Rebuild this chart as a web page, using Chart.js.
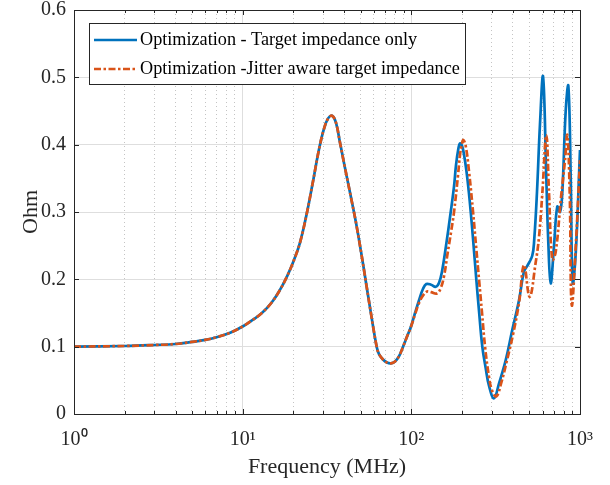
<!DOCTYPE html>
<html><head><meta charset="utf-8">
<script src="https://cdn.jsdelivr.net/npm/chart.js@4"></script>
<style>html,body{margin:0;padding:0;background:#fff}</style>
</head><body>
<canvas id="c" width="610" height="485" style="display:block;width:610px;height:485px"></canvas>
<script>
const seriesLabels = ['Optimization - Target impedance only', 'Optimization -Jitter aware target impedance'];
const freqBlue = [1,2,3,4,5,6,7,8.5,10,11.35,13,14.9,16.7,18.3,20.1,21.9,24,26.1,28.3,30.3,32.1,33.9,35.7,37.7,39.8,43.2,46.9,50.4,54.1,58,62.3,64.3,67.9,71.7,75.7,
  80.1,84.6,89.3,94.3,99.6,105.2,111.1,117.3,122.7,130.9,139.5,146,152.1,160.6,171.2,179.1,184.1,190,194.4,199.9,205.3,212.4,219.8,225,232.2,242.8,251.9,263.5,276.1,288.7,309.3,331.1,362.8,396.9,434.9,465.7,487,521,535,556,579,604,631,649,670,701,733,761,785,823,853,881,905,944,1000];
const ohmBlue = [0.100,0.101,0.1025,0.104,0.107,0.110,0.114,0.121,0.130,0.139,0.150,0.166,0.185,0.204,0.228,0.255,0.298,0.345,0.392,0.423,0.439,0.443,0.433,0.404,0.374,0.330,0.285,0.240,0.192,0.145,0.100,0.089,0.081,0.0765,0.0753,
  0.078,0.086,0.100,0.115,0.130,0.150,0.169,0.186,0.193,0.192,0.189,0.195,0.212,0.250,0.300,0.338,0.370,0.394,0.402,0.398,0.385,0.360,0.327,0.300,0.260,0.200,0.153,0.100,0.068,0.042,0.0233,0.0456,0.080,0.125,0.169,0.212,0.220,0.235,0.258,0.330,0.430,0.501,0.352,0.254,0.194,0.249,0.308,0.300,0.328,0.451,0.487,0.352,0.195,0.240,0.392];
const freqOrange = [1,2,3,4,5,6,7,8.5,10,11.35,13,14.9,16.7,18.3,20.1,21.9,24,26.1,28.3,30.3,32.1,33.9,35.7,37.7,39.8,43.2,46.9,50.4,54.1,58,62.3,64.3,67.9,71.7,75.7,
  80.1,84.6,89.3,94.3,99.6,105.2,111.1,117.3,123.9,130.9,142,149.4,156.3,163.9,171.9,179.1,189.2,194.4,199.1,203.4,210.1,219.8,232.2,242.8,251.9,262.5,273.5,288.7,300.9,319.1,340.2,369.2,400.7,434.9,465.7,503,546,571,598,631,655,685,718,769,815,841,869,893,944,1000];
const ohmOrange = [0.100,0.101,0.1025,0.104,0.107,0.110,0.114,0.121,0.130,0.139,0.150,0.166,0.185,0.204,0.228,0.255,0.298,0.345,0.392,0.423,0.439,0.443,0.433,0.404,0.374,0.330,0.285,0.240,0.192,0.145,0.100,0.089,0.081,0.0765,0.0753,
  0.078,0.086,0.100,0.115,0.130,0.148,0.165,0.176,0.182,0.181,0.179,0.187,0.205,0.238,0.270,0.300,0.355,0.385,0.400,0.407,0.398,0.360,0.300,0.245,0.200,0.150,0.100,0.055,0.035,0.026,0.045,0.080,0.118,0.165,0.221,0.174,0.225,0.262,0.328,0.414,0.328,0.229,0.241,0.318,0.377,0.414,0.328,0.162,0.250,0.377];
const yTickValues = [0,0.1,0.2,0.3,0.4,0.5,0.6];
const xDecades = [1,10,100,1000];
const xDecadeLabels = ['10\u2070','10\u00B9','10\u00B2','10\u00B3'];
const xTitle = 'Frequency (MHz)';
const yTitle = 'Ohm';

const FONT = '"Liberation Serif", "Times New Roman", serif';
const TXT = '#262626';
const BLUE = '#0072BD';
const ORANGE = '#D95319';
const ORANGE_DASH = [7,2.5,2.5,2.5];

function pts(xs, ys){ return xs.map((x,i)=>({x:x, y:ys[i]})); }
function isDecade(v){ return xDecades.some(d => Math.abs(d - v) < 1e-9); }

const framePlugin = {
  id:'frame',
  afterDraw(chart){
    const {ctx, chartArea:a, scales} = chart;
    ctx.save();
    ctx.strokeStyle = TXT; ctx.lineWidth = 1;
    ctx.beginPath();
    scales.x.ticks.forEach(t => {
      const px = Math.round(scales.x.getPixelForValue(t.value)) + 0.5;
      const len = isDecade(t.value) ? 5 : 3;
      ctx.moveTo(px, a.bottom); ctx.lineTo(px, a.bottom - len);
      ctx.moveTo(px, a.top); ctx.lineTo(px, a.top + len);
    });
    scales.y.ticks.forEach(t => {
      const py = Math.round(scales.y.getPixelForValue(t.value)) + 0.5;
      ctx.moveTo(a.left, py); ctx.lineTo(a.left + 5, py);
      ctx.moveTo(a.right, py); ctx.lineTo(a.right - 5, py);
    });
    ctx.stroke();
    ctx.strokeRect(Math.round(a.left)+0.5, Math.round(a.top)+0.5, Math.round(a.right-a.left), Math.round(a.bottom-a.top));
    const lx = 89.5, ly = 23.5, lw = 376, lh = 61;
    ctx.fillStyle = '#fff';
    ctx.fillRect(lx, ly, lw, lh);
    ctx.strokeStyle = TXT;
    ctx.strokeRect(lx, ly, lw, lh);
    const rows = [{y:40, c:BLUE, d:[]}, {y:69, c:ORANGE, d:ORANGE_DASH}];
    ctx.font = '18.2px ' + FONT;
    ctx.textBaseline = 'middle';
    ctx.textAlign = 'left';
    rows.forEach((r, i) => {
      ctx.beginPath();
      ctx.setLineDash(r.d);
      ctx.strokeStyle = r.c; ctx.lineWidth = 2.7;
      ctx.moveTo(94, r.y); ctx.lineTo(137, r.y);
      ctx.stroke();
      ctx.setLineDash([]);
      ctx.fillStyle = '#000';
      ctx.fillText(chart.data.datasets[i].label, 140, r.y);
    });
    ctx.restore();
  }
};

new Chart(document.getElementById('c'), {
  type:'line',
  data:{ datasets:[
    { label:seriesLabels[0], data:pts(freqBlue, ohmBlue), borderColor:BLUE, backgroundColor:BLUE, borderWidth:2.7,
      pointRadius:0, tension:0.4, fill:false, order:1 },
    { label:seriesLabels[1], data:pts(freqOrange, ohmOrange), borderColor:ORANGE, backgroundColor:ORANGE, borderWidth:2.7,
      borderDash:ORANGE_DASH, pointRadius:0, tension:0.4, fill:false, order:0 }
  ]},
  options:{
    responsive:false, animation:false, devicePixelRatio:1,
    layout:{ padding:{left:0, top:10, right:30, bottom:0}, autoPadding:false },
    plugins:{ legend:{display:false}, tooltip:{enabled:false} },
    scales:{
      x:{ type:'logarithmic', position:'bottom', min:1, max:1000,
        afterBuildTicks(s){ const t=[]; [1,10,100].forEach(d=>{ for(let m=1;m<=9;m++) t.push({value:d*m}); }); t.push({value:1000}); s.ticks=t; },
        ticks:{ autoSkip:false, maxRotation:0, minRotation:0, padding:14, color:TXT, font:{family:FONT, size:20},
          callback:(v)=>{ const i = xDecades.findIndex(d=>Math.abs(d-v)<1e-9); return i>=0 ? xDecadeLabels[i] : ''; } },
        grid:{ drawTicks:false, lineWidth:1, color:(c)=> (c.tick && isDecade(c.tick.value)) ? '#dedede' : '#c4c4c4' },
        border:{ display:false, dash:(c)=> (c.tick && isDecade(c.tick.value)) ? [] : [1,3] },
        title:{ display:true, text:xTitle, color:TXT, font:{family:FONT, size:22}, padding:{top:0, bottom:5} },
        afterFit(s){ s.height = 71; s.paddingLeft = 0; s.paddingRight = 0; }
      },
      y:{ type:'linear', position:'left', min:0, max:0.6,
        afterBuildTicks(s){ s.ticks = yTickValues.map(v=>({value:v})); },
        ticks:{ padding:8, color:TXT, font:{family:FONT, size:20}, callback:(v)=> v===0 ? '0' : Number(v).toFixed(1) },
        grid:{ drawTicks:false, lineWidth:1, color:'#dedede' },
        border:{ display:false },
        title:{ display:true, text:yTitle, color:TXT, font:{family:FONT, size:22}, padding:{top:18, bottom:0} },
        afterFit(s){ s.width = 74; s.paddingTop = 0; s.paddingBottom = 0; }
      }
    }
  },
  plugins:[framePlugin]
});
</script>
</body></html>
